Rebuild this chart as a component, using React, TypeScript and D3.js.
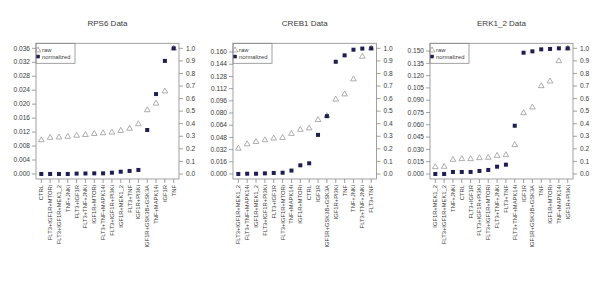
import React from "react";
import * as d3 from "d3";

const rps6Labels = ["CTRL", "FLT3+IGF1R+MTORi", "FLT3+IGF1R+MEK1_2", "TNF+JNKi", "FLT3+IGF1R", "FLT3+TNF+JNKi", "IGF1R+MTORi", "FLT3+TNF+MAPK14i", "FLT3+IGF1R+PI3Ki", "IGF1R+MEK1_2", "FLT3+TNF", "IGF1R+PI3Ki", "IGF1R+GSK3B+GSK3A", "TNF+MAPK14i", "IGF1R", "TNF"];
const rps6Raw = [0.0097, 0.0104, 0.0105, 0.0107, 0.011, 0.0112, 0.0115, 0.0117, 0.0119, 0.0124, 0.013, 0.0143, 0.0183, 0.0202, 0.0237, 0.036];
const rps6Norm = [0, 0, 0, 0, 0.003, 0.004, 0.005, 0.005, 0.01, 0.018, 0.024, 0.032, 0.35, 0.636, 0.9, 1.0];
const rps6Ticks = [0, 0.004, 0.008, 0.012, 0.016, 0.02, 0.024, 0.028, 0.032, 0.036];

const creb1Labels = ["FLT3+IGF1R+MEK1_2", "FLT3+TNF+MAPK14i", "IGF1R+MEK1_2", "FLT3+IGF1R+PI3Ki", "FLT3+IGF1R", "FLT3+IGF1R+MTORi", "TNF+MAPK14i", "IGF1R+MTORi", "CTRL", "IGF1R", "IGF1R+GSK3B+GSK3A", "IGF1R+PI3Ki", "TNF", "TNF+JNKi", "FLT3+TNF+JNKi", "FLT3+TNF"];
const creb1Raw = [0.0334, 0.0391, 0.0422, 0.0444, 0.0467, 0.0475, 0.0528, 0.0581, 0.06, 0.071, 0.0763, 0.0979, 0.1046, 0.1244, 0.1541, 0.1649];
const creb1Norm = [0, 0.002, 0.002, 0.005, 0.008, 0.01, 0.027, 0.069, 0.085, 0.311, 0.46, 0.893, 0.944, 0.989, 0.998, 1.0];
const creb1Ticks = [0, 0.016, 0.032, 0.048, 0.064, 0.08, 0.096, 0.112, 0.128, 0.144, 0.16];

const erkLabels = ["IGF1R+MEK1_2", "FLT3+IGF1R+MEK1_2", "TNF+JNKi", "CTRL", "FLT3+IGF1R", "FLT3+IGF1R+PI3Ki", "FLT3+IGF1R+MTORi", "FLT3+TNF+JNKi", "FLT3+TNF", "FLT3+TNF+MAPK14i", "IGF1R", "IGF1R+GSK3B+GSK3A", "TNF", "IGF1R+MTORi", "TNF+MAPK14i", "IGF1R+PI3Ki"];
const erkRaw = [0.0085, 0.0089, 0.0174, 0.0183, 0.0183, 0.0195, 0.0199, 0.0223, 0.0232, 0.0354, 0.0744, 0.0813, 0.1073, 0.113, 0.1378, 0.1533];
const erkNorm = [0, 0, 0.016, 0.016, 0.016, 0.024, 0.032, 0.058, 0.074, 0.384, 0.965, 0.976, 0.992, 0.995, 1.0, 1.0];
const erkTicks = [0, 0.015, 0.03, 0.045, 0.06, 0.075, 0.09, 0.105, 0.12, 0.135, 0.15];

const normTicks = [0, 0.1, 0.2, 0.3, 0.4, 0.5, 0.6, 0.7, 0.8, 0.9, 1.0];

const panels = [
  { title: "RPS6 Data", labels: rps6Labels, raw: rps6Raw, norm: rps6Norm, ticks: rps6Ticks, digits: 3, left: 36, right: 179 },
  { title: "CREB1 Data", labels: creb1Labels, raw: creb1Raw, norm: creb1Norm, ticks: creb1Ticks, digits: 3, left: 233, right: 376.5 },
  { title: "ERK1_2 Data", labels: erkLabels, raw: erkRaw, norm: erkNorm, ticks: erkTicks, digits: 3, left: 430, right: 573 },
];

const TOP = 43.3;
const BOTTOM = 179;
const FONT = "'Liberation Sans', Arial, sans-serif";
const BOX = "#8a8a8a";
const TXT = "#3a3a3a";
const TRI = "#9a9a9a";
const SQ = "#1e1e50";

function Panel({ p }: { p: typeof panels[0] }) {
  const n = p.labels.length;
  const x = d3.scaleLinear().domain([1 - 0.04 * (n - 1), n + 0.04 * (n - 1)]).range([p.left, p.right]);
  const maxRaw = d3.max(p.raw) as number;
  const yL = d3.scaleLinear().domain([-0.04 * maxRaw, 1.04 * maxRaw]).range([BOTTOM, TOP]);
  const yR = d3.scaleLinear().domain([-0.04, 1.04]).range([BOTTOM, TOP]);
  const fmtL = d3.format(`.${p.digits}f`);
  const fmtR = d3.format(".1f");
  const tri = d3.symbol().type(d3.symbolTriangle).size(14);
  const cx = (p.left + p.right) / 2;
  return (
    <g>
      <text x={cx} y={26} textAnchor="middle" fontSize={8} fill={TXT} fontFamily={FONT}>{p.title}</text>
      <rect x={p.left} y={TOP} width={p.right - p.left} height={BOTTOM - TOP} fill="none" stroke={BOX} strokeWidth={0.8} />
      {p.ticks.map((t, i) => (
        <g key={"l" + i}>
          <line x1={p.left - 4} x2={p.left} y1={yL(t)} y2={yL(t)} stroke={BOX} strokeWidth={0.8} />
          <text x={p.left - 6} y={yL(t) + 2.2} textAnchor="end" fontSize={6.6} fill={TXT} fontFamily={FONT}>{fmtL(t)}</text>
        </g>
      ))}
      {normTicks.map((t, i) => (
        <g key={"r" + i}>
          <line x1={p.right} x2={p.right + 4} y1={yR(t)} y2={yR(t)} stroke={BOX} strokeWidth={0.8} />
          <text x={p.right + 7} y={yR(t) + 2.2} textAnchor="start" fontSize={6.6} fill={TXT} fontFamily={FONT}>{fmtR(t)}</text>
        </g>
      ))}
      {p.labels.map((l, i) => (
        <g key={"x" + i}>
          <line x1={x(i + 1)} x2={x(i + 1)} y1={BOTTOM} y2={BOTTOM + 4} stroke={BOX} strokeWidth={0.8} />
          <text transform={`translate(${x(i + 1) + 2},${BOTTOM + 6}) rotate(-90)`} textAnchor="end" fontSize={5.8} fill={TXT} fontFamily={FONT}>{l}</text>
        </g>
      ))}
      {p.raw.map((v, i) => (
        <path key={"t" + i} d={tri() as string} transform={`translate(${x(i + 1)},${yL(v)})`} fill="none" stroke={TRI} strokeWidth={0.8} />
      ))}
      {p.norm.map((v, i) => (
        <rect key={"s" + i} x={x(i + 1) - 2} y={yR(v) - 2} width={4} height={4} fill={SQ} />
      ))}
      <rect x={p.left} y={TOP} width={39} height={20} fill="white" fillOpacity={0} stroke={BOX} strokeWidth={0.8} />
      <path d={tri() as string} transform={`translate(${p.left + 2},${TOP + 7})`} fill="none" stroke={TRI} strokeWidth={0.8} />
      <text x={p.left + 6} y={TOP + 9} fontSize={5.8} fill={TXT} fontFamily={FONT}>raw</text>
      <rect x={p.left + 0.3} y={TOP + 11.5} width={3.5} height={3.5} fill={SQ} />
      <text x={p.left + 6} y={TOP + 15.5} fontSize={5.8} fill={TXT} fontFamily={FONT}>normalized</text>
    </g>
  );
}

export default function App() {
  return (
    <svg width={602} height={294} style={{ position: "absolute", left: 0, top: 0, background: "white" }}>
      <rect width={602} height={294} fill="white" />
      {panels.map((p, i) => <Panel key={i} p={p} />)}
    </svg>
  );
}
